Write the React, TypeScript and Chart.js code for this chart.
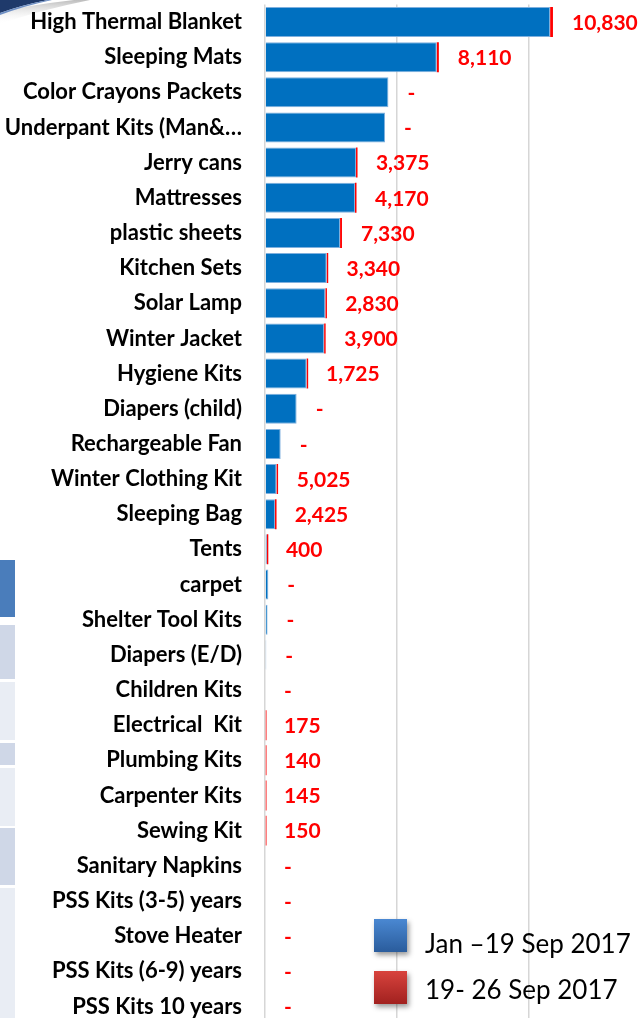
import React, { useEffect, useRef } from 'react';
import { Chart, registerables } from 'chart.js';

Chart.register(...registerables);

const categories = [
  'High Thermal Blanket',
  'Sleeping Mats',
  'Color Crayons Packets',
  'Underpant Kits (Man&…',
  'Jerry cans',
  'Mattresses',
  'plastic sheets',
  'Kitchen Sets',
  'Solar Lamp',
  'Winter Jacket',
  'Hygiene Kits',
  'Diapers (child)',
  'Rechargeable Fan',
  'Winter Clothing Kit',
  'Sleeping Bag',
  'Tents',
  'carpet',
  'Shelter Tool Kits',
  'Diapers (E/D)',
  'Children Kits',
  'Electrical  Kit',
  'Plumbing Kits',
  'Carpenter Kits',
  'Sewing Kit',
  'Sanitary Napkins',
  'PSS Kits (3-5) years',
  'Stove Heater',
  'PSS Kits (6-9) years',
  'PSS Kits 10 years',
];

const seriesLabels = ['Jan –19 Sep 2017', '19- 26 Sep 2017'];

// Jan – 19 Sep 2017
const janTo19Sep = [
  1109000, 668000, 480000, 467000, 354000, 350000, 292000, 240000, 235000, 230000,
  162000, 123000, 61000, 45000, 39000, 7000, 13000, 10000, 5000, 0,
  0, 0, 0, 0, 0, 0, 0, 0, 0,
];

// 19 – 26 Sep 2017 (data labels)
const sep19To26 = [
  10830, 8110, 0, 0, 3375, 4170, 7330, 3340, 2830, 3900,
  1725, 0, 0, 5025, 2425, 400, 0, 0, 0, 0,
  175, 140, 145, 150, 0, 0, 0, 0, 0,
];

const gridStep = 500000;
const axisMax = 1540000;

export default function App() {
  const ref = useRef<HTMLCanvasElement>(null);

  useEffect(() => {
    if (!ref.current) return;

    const valueLabels = {
      id: 'valueLabels',
      afterDatasetsDraw(chart: any) {
        const { ctx } = chart;
        const xs = chart.scales.x;
        const ys = chart.scales.y;
        ctx.save();
        ctx.font = 'bold 21px Lato';
        ctx.fillStyle = '#FF0000';
        ctx.textAlign = 'left';
        ctx.textBaseline = 'middle';
        categories.forEach((_, i) => {
          const end = xs.getPixelForValue(janTo19Sep[i] + sep19To26[i]);
          const yy = ys.getPixelForValue(i);
          const v = sep19To26[i];
          ctx.fillText(v > 0 ? v.toLocaleString('en-US') : '-', end + 19, yy + 1);
        });
        ctx.restore();
      },
    };

    const customLegend = {
      id: 'customLegend',
      afterDraw(chart: any) {
        const { ctx } = chart;
        const items = [
          { label: seriesLabels[0], top: '#4a88d2', bottom: '#2a5c9c', y: 919, base: 953 },
          { label: seriesLabels[1], top: '#d8433d', bottom: '#a1211f', y: 971, base: 999 },
        ];
        ctx.save();
        items.forEach((it) => {
          const x = 374;
          const s = 33;
          const g = ctx.createLinearGradient(0, it.y, 0, it.y + s);
          g.addColorStop(0, it.top);
          g.addColorStop(1, it.bottom);
          ctx.save();
          ctx.shadowColor = 'rgba(0,0,0,0.4)';
          ctx.shadowBlur = 5;
          ctx.shadowOffsetX = 2;
          ctx.shadowOffsetY = 3;
          ctx.fillStyle = g;
          ctx.fillRect(x, it.y, s, s);
          ctx.restore();
          ctx.font = '26px Lato';
          ctx.fillStyle = '#000';
          ctx.textAlign = 'left';
          ctx.textBaseline = 'alphabetic';
          ctx.fillText(it.label, 425, it.base);
        });
        ctx.restore();
      },
    };

    const chart = new Chart(ref.current, {
      type: 'bar',
      data: {
        labels: categories,
        datasets: [
          {
            label: seriesLabels[0],
            data: janTo19Sep,
            backgroundColor: '#0070C0',
            borderColor: '#7fb0de',
            borderWidth: 1,
            barPercentage: 0.853,
            categoryPercentage: 1,
          },
          {
            label: seriesLabels[1],
            data: sep19To26.map((v) => (v > 0 ? v : null)),
            backgroundColor: '#FF0000',
            borderWidth: 0,
            minBarLength: 1.5,
            barPercentage: 0.853,
            categoryPercentage: 1,
          },
        ],
      },
      options: {
        indexAxis: 'y',
        responsive: false,
        animation: false,
        layout: { padding: { top: 4.4, left: 0, right: 0, bottom: 0 } },
        plugins: {
          legend: { display: false },
          tooltip: { enabled: false },
        },
        scales: {
          x: {
            type: 'linear',
            stacked: true,
            min: 0,
            max: axisMax,
            ticks: { display: false, stepSize: gridStep },
            grid: { color: '#d6d6d6', lineWidth: 1.5, drawTicks: false },
            border: { display: false },
            afterFit(s: any) {
              s.height = 0;
              s.paddingLeft = 0;
              s.paddingRight = 0;
            },
          },
          y: {
            type: 'category',
            stacked: true,
            grid: { display: false, drawTicks: false },
            border: { display: false },
            ticks: {
              padding: 23,
              color: '#000',
              font: { family: 'Lato', weight: 'bold', size: 22 },
              autoSkip: false,
            },
            afterFit(s: any) {
              s.width = 265;
              s.paddingTop = 0;
              s.paddingBottom = 0;
            },
          },
        },
      },
      plugins: [valueLabels, customLegend],
    });

    return () => chart.destroy();
  }, []);

  const rows = [
    { top: 560, h: 57, c: '#4a7dbb' },
    { top: 625, h: 54, c: '#cfd7e7' },
    { top: 682, h: 58, c: '#e9edf4' },
    { top: 743, h: 22, c: '#cfd7e7' },
    { top: 768, h: 58, c: '#e9edf4' },
    { top: 828, h: 57, c: '#cfd7e7' },
    { top: 888, h: 130, c: '#e9edf4' },
  ];

  return (
    <div
      style={{
        position: 'fixed',
        left: 0,
        top: 0,
        width: 642,
        height: 1018,
        overflow: 'hidden',
        background: '#fff',
      }}
    >
      <svg width={100} height={30} style={{ position: 'absolute', left: 0, top: 0 }}>
        <defs>
          <linearGradient id="shd" x1="0" y1="0" x2="0" y2="1">
            <stop offset="0" stopColor="#bdbdbd" />
            <stop offset="1" stopColor="#ffffff" stopOpacity="0" />
          </linearGradient>
        </defs>
        <path d="M0,12 Q30,5 74,0 L90,0 Q40,10 0,24 Z" fill="url(#shd)" />
        <path d="M0,0 L48,0 Q22,5 0,13 Z" fill="#1f3a6b" />
        <path d="M0,13 Q22,5 48,0 L52,0 Q24,6 0,15 Z" fill="#6e8fc4" />
      </svg>
      {rows.map((r, i) => (
        <div
          key={i}
          style={{ position: 'absolute', left: 0, top: r.top, width: 15, height: r.h, background: r.c }}
        />
      ))}
      <canvas
        ref={ref}
        width={661}
        height={1024}
        style={{ position: 'absolute', left: 0, top: 0, width: 661, height: 1024 }}
      />
    </div>
  );
}
